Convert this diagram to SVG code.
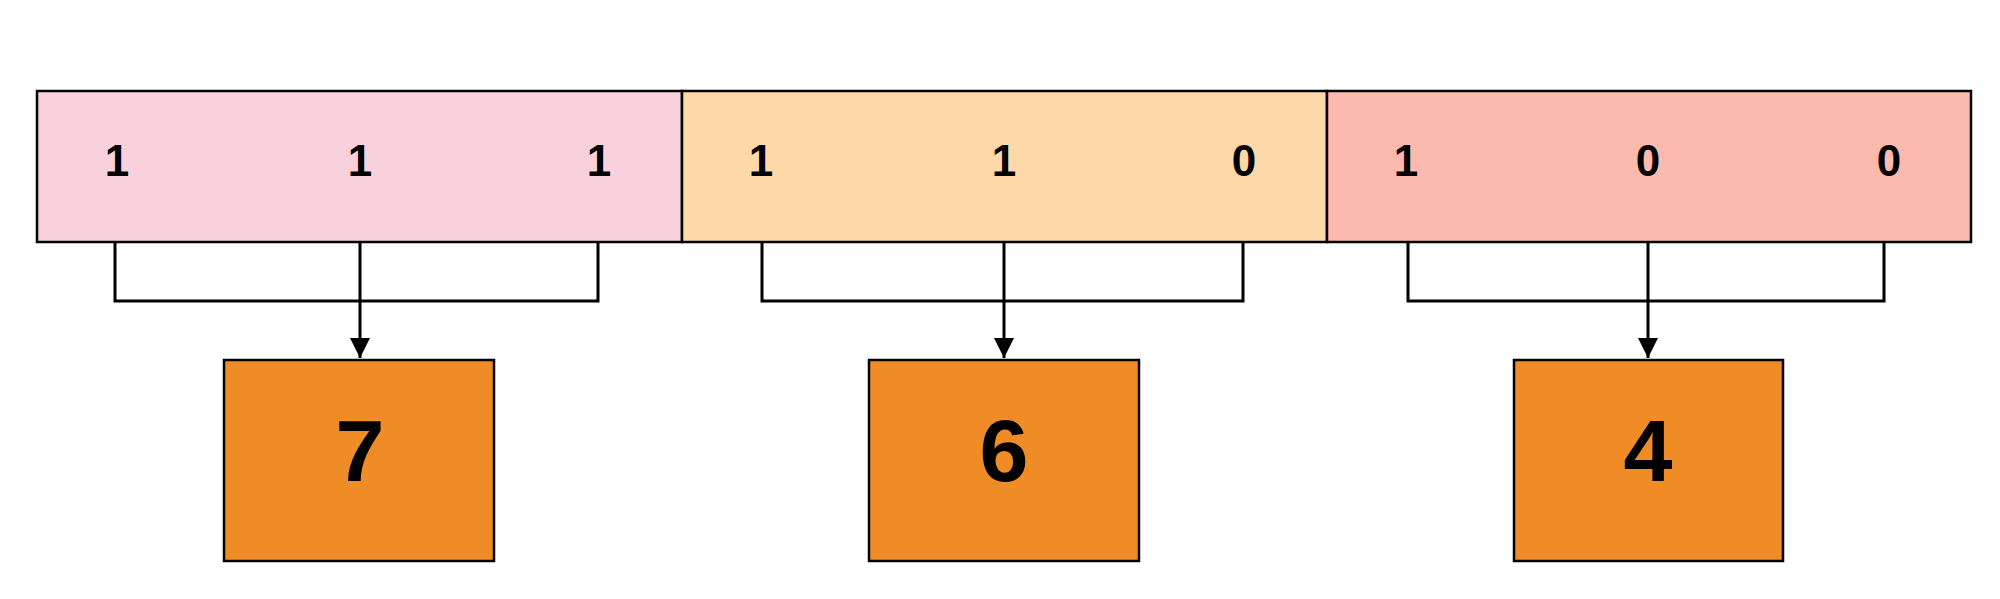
<svg xmlns="http://www.w3.org/2000/svg" width="2000" height="599" viewBox="0 0 2000 599">
<style>
.cell{stroke:#000;stroke-width:2.5}
.bit{font-family:"Liberation Sans",Arial,sans-serif;font-weight:bold;font-size:44px;text-anchor:middle;fill:#000}
.out{fill:#ef8c25;stroke:#000;stroke-width:2.5}
.big{font-family:"Liberation Sans",Arial,sans-serif;font-weight:bold;font-size:88px;text-anchor:middle;fill:#000}
.c{fill:none;stroke:#000;stroke-width:3}
</style>
<defs><marker id="ah" markerWidth="10" markerHeight="12" refX="10" refY="6" orient="auto" markerUnits="userSpaceOnUse"><path d="M0,0 L10,6 L0,12 Z" transform="scale(2)" fill="#000"/></marker>
<marker id="a" viewBox="0 0 20 20" markerWidth="20" markerHeight="30" refX="20" refY="10" orient="auto" markerUnits="userSpaceOnUse"><path d="M0,0 L20,10 L0,20 Z" fill="#000"/></marker></defs>
<g id="group1"><rect class="cell" x="37" y="91" width="645" height="151" fill="#f9d1dc"/>
<text class="bit" x="117" y="176">1</text><text class="bit" x="360" y="176">1</text><text class="bit" x="599" y="176">1</text></g>
<g id="group2"><rect class="cell" x="682" y="91" width="645" height="151" fill="#fdd9a9"/>
<text class="bit" x="761" y="176">1</text><text class="bit" x="1004" y="176">1</text><text class="bit" x="1244" y="176">0</text></g>
<g id="group3"><rect class="cell" x="1327" y="91" width="644" height="151" fill="#fcbaae"/>
<text class="bit" x="1406" y="176">1</text><text class="bit" x="1648" y="176">0</text><text class="bit" x="1889" y="176">0</text></g>
<g id="out7"><rect class="out" x="224" y="360" width="270" height="201"/><text class="big" x="360" y="481">7</text></g>
<g id="out6"><rect class="out" x="869" y="360" width="270" height="201"/><text class="big" x="1004" y="481">6</text></g>
<g id="out4"><rect class="out" x="1514" y="360" width="269" height="201"/><text class="big" x="1648" y="481">4</text></g>
<g id="connectors">
<path class="c" d="M115,242 V301 H598 V242"/><path class="c" d="M360,242 V358" marker-end="url(#a)"/>
<path class="c" d="M762,242 V301 H1243 V242"/><path class="c" d="M1004,242 V358" marker-end="url(#a)"/>
<path class="c" d="M1408,242 V301 H1884 V242"/><path class="c" d="M1648,242 V358" marker-end="url(#a)"/>
</g>
</svg>
